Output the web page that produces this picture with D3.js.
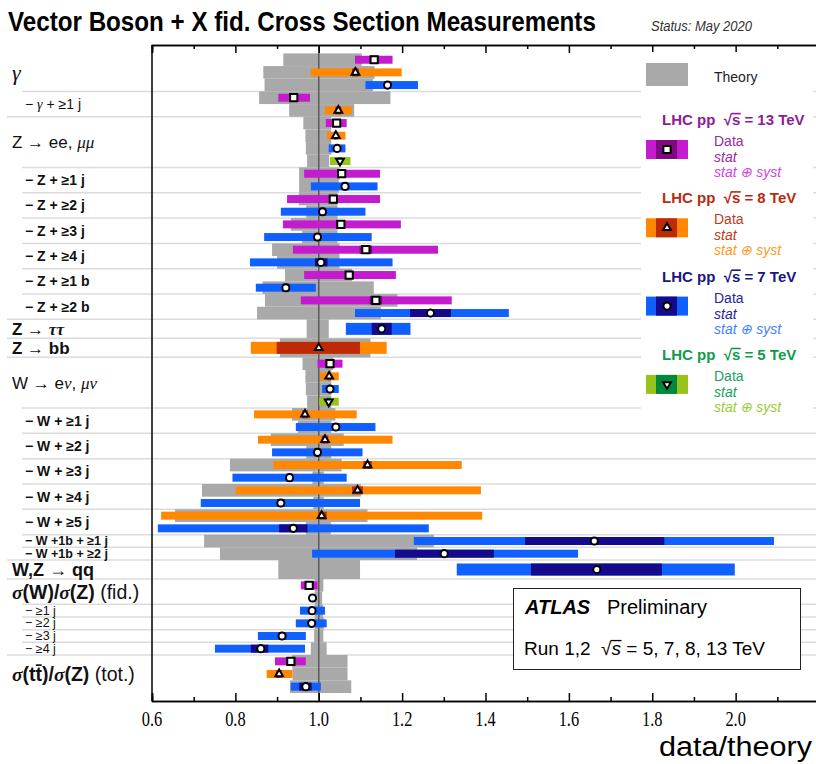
<!DOCTYPE html>
<html>
<head>
<meta charset="utf-8">
<script src="https://cdn.jsdelivr.net/npm/d3@7"></script>
<style>
  body { margin: 0; background: #fff; }
  svg { display: block; font-family: "Liberation Sans", Arial, sans-serif; }
  svg text { white-space: pre; }
</style>
</head>
<body>
<div id="app"></div>
<script>
// Categories (rows), top to bottom; level 0 = process, level 1 = sub-selection
const categories = [
  "γ", "− γ + ≥1 j",
  "Z → ee, μμ", "− Z + ≥1 j", "− Z + ≥2 j", "− Z + ≥3 j", "− Z + ≥4 j", "− Z + ≥1 b", "− Z + ≥2 b",
  "Z → ττ", "Z → bb",
  "W → eν, μν", "− W + ≥1 j", "− W + ≥2 j", "− W + ≥3 j", "− W + ≥4 j", "− W + ≥5 j",
  "− W +1b + ≥1 j", "− W +1b + ≥2 j",
  "W,Z → qq",
  "σ(W)/σ(Z) (fid.)", "− ≥1 j", "− ≥2 j", "− ≥3 j", "− ≥4 j",
  "σ(tt̄)/σ(Z) (tot.)"
];
const catLevel = [0, 1, 0, 1, 1, 1, 1, 1, 1, 0, 0, 0, 1, 1, 1, 1, 1, 1, 1, 0, 0, 1, 1, 1, 1, 0];

const energies = ["13", "8", "7", "5"];

// [category, data/theory, stat low, stat high, stat+syst low, stat+syst high, theory low, theory high]
const meas13 = [
  ["γ",            1.133, 1.125, 1.141, 1.087, 1.177, 0.915, 1.103],
  ["− γ + ≥1 j",   0.940, 0.932, 0.948, 0.903, 0.979, 0.857, 1.172],
  ["Z → ee, μμ",   1.043, 1.038, 1.048, 1.017, 1.067, 0.963, 1.030],
  ["− Z + ≥1 j",   1.055, 1.047, 1.063, 0.965, 1.147, 0.953, 1.050],
  ["− Z + ≥2 j",   1.035, 1.027, 1.043, 0.924, 1.147, 0.952, 1.045],
  ["− Z + ≥3 j",   1.053, 1.043, 1.063, 0.914, 1.197, 0.933, 1.045],
  ["− Z + ≥4 j",   1.113, 1.098, 1.128, 0.938, 1.286, 0.888, 1.050],
  ["− Z + ≥1 b",   1.073, 1.063, 1.083, 0.965, 1.185, 0.919, 1.080],
  ["− Z + ≥2 b",   1.137, 1.122, 1.152, 0.957, 1.319, 0.871, 1.189],
  ["W → eν, μν",   1.027, 1.022, 1.032, 0.997, 1.057, 0.961, 1.035],
  ["σ(W)/σ(Z) (fid.)", 0.977, 0.967, 0.987, 0.957, 0.997, 0.990, 1.011],
  ["σ(tt̄)/σ(Z) (tot.)", 0.933, 0.924, 0.944, 0.895, 0.969, 0.936, 1.069]
];
const meas8 = [
  ["γ",            1.088, 1.080, 1.096, 0.981, 1.199, 0.867, 1.134],
  ["− γ + ≥1 j",   1.047, 1.040, 1.054, 1.015, 1.079, 0.929, 1.085],
  ["Z → ee, μμ",   1.041, 1.037, 1.045, 1.020, 1.064, 0.968, 1.030],
  ["Z → bb",       1.000, 0.899, 1.099, 0.837, 1.163, 0.907, 1.124],
  ["W → eν, μν",   1.025, 1.021, 1.029, 1.003, 1.048, 0.968, 1.030],
  ["− W + ≥1 j",   0.967, 0.960, 0.974, 0.845, 1.091, 0.936, 1.040],
  ["− W + ≥2 j",   1.015, 1.007, 1.023, 0.854, 1.177, 0.885, 1.060],
  ["− W + ≥3 j",   1.117, 1.107, 1.127, 0.891, 1.343, 0.787, 1.055],
  ["− W + ≥4 j",   1.093, 1.080, 1.106, 0.801, 1.389, 0.720, 1.101],
  ["− W + ≥5 j",   1.007, 0.999, 1.019, 0.622, 1.392, 0.655, 1.117],
  ["σ(tt̄)/σ(Z) (tot.)", 0.905, 0.898, 0.912, 0.875, 0.937, 0.937, 1.069]
];
const meas7 = [
  ["γ",            1.165, 1.158, 1.172, 1.112, 1.238, 0.870, 1.130],
  ["Z → ee, μμ",   1.044, 1.040, 1.048, 1.024, 1.064, 0.969, 1.030],
  ["− Z + ≥1 j",   1.063, 1.055, 1.071, 0.981, 1.141, 0.953, 1.048],
  ["− Z + ≥2 j",   1.009, 1.001, 1.017, 0.909, 1.112, 0.970, 1.045],
  ["− Z + ≥3 j",   0.997, 0.989, 1.005, 0.869, 1.127, 0.960, 1.045],
  ["− Z + ≥4 j",   1.005, 0.991, 1.021, 0.835, 1.177, 0.900, 1.050],
  ["− Z + ≥1 b",   0.921, 0.913, 0.929, 0.849, 0.993, 0.865, 1.132],
  ["− Z + ≥2 b",   1.268, 1.219, 1.317, 1.087, 1.456, 0.852, 1.149],
  ["Z → ττ",       1.151, 1.127, 1.175, 1.065, 1.220, 0.971, 1.024],
  ["W → eν, μν",   1.027, 1.023, 1.031, 1.008, 1.048, 0.969, 1.030],
  ["− W + ≥1 j",   1.041, 1.033, 1.049, 0.945, 1.136, 0.950, 1.030],
  ["− W + ≥2 j",   0.997, 0.989, 1.005, 0.888, 1.105, 0.970, 1.030],
  ["− W + ≥3 j",   0.930, 0.922, 0.938, 0.793, 1.067, 0.985, 1.012],
  ["− W + ≥4 j",   0.909, 0.900, 0.918, 0.717, 1.099, 0.987, 1.012],
  ["− W + ≥5 j",   0.939, 0.905, 0.973, 0.614, 1.264, 0.969, 1.029],
  ["− W +1b + ≥1 j", 1.661, 1.495, 1.829, 1.228, 2.092, 0.725, 1.276],
  ["− W +1b + ≥2 j", 1.301, 1.183, 1.420, 0.984, 1.622, 0.763, 1.236],
  ["W,Z → qq",     1.667, 1.509, 1.823, 1.331, 1.998, 0.903, 1.099],
  ["σ(W)/σ(Z) (fid.)", 0.985, 0.981, 0.989, 0.978, 0.993, 0.990, 1.008],
  ["− ≥1 j",       0.984, 0.978, 0.990, 0.955, 1.015, 0.990, 1.010],
  ["− ≥2 j",       0.983, 0.977, 0.989, 0.945, 1.019, 0.990, 1.012],
  ["− ≥3 j",       0.912, 0.904, 0.920, 0.854, 0.969, 0.989, 1.011],
  ["− ≥4 j",       0.861, 0.837, 0.879, 0.751, 0.967, 0.981, 1.019],
  ["σ(tt̄)/σ(Z) (tot.)", 0.969, 0.953, 0.983, 0.933, 1.005, 0.931, 1.078]
];
const meas5 = [
  ["Z → ee, μμ",   1.051, 1.046, 1.056, 1.027, 1.076, 0.972, 1.025],
  ["W → eν, μν",   1.024, 1.019, 1.029, 1.001, 1.048, 0.972, 1.030]
];

const xTicks = [0.6, 0.8, 1.0, 1.2, 1.4, 1.6, 1.8, 2.0];

// Styling per energy
const style = {
  "13": { syst: "#c51bcf", stat: "#7d0a80", head: "#8e1c96", text: "#9a2aa0", soft: "#d344e0", symbol: d3.symbolSquare, size: 52, rot: 0 },
  "8":  { syst: "#ff8800", stat: "#bd2a05", head: "#b82a10", text: "#c23a1c", soft: "#ff9a22", symbol: d3.symbolTriangle, size: 26, rot: 0 },
  "7":  { syst: "#1060ff", stat: "#150a8c", head: "#181880", text: "#252592", soft: "#3f82ff", symbol: d3.symbolCircle, size: 40, rot: 0 },
  "5":  { syst: "#99c21c", stat: "#00893c", head: "#119a4c", text: "#22a062", soft: "#9ccc36", symbol: d3.symbolTriangle, size: 26, rot: 180 }
};
const theoryColor = "#a9a9a9";

const width = 816, height = 764;
const plotLeft = 152, plotRight = 819, plotTop = 45, plotBottom = 701;

const svg = d3.select("#app").append("svg").attr("width", width).attr("height", height);

// squeeze a text horizontally so that it spans the given width
function fitWidth(sel, x0, y0, w) {
  const natural = sel.node().getComputedTextLength();
  sel.attr("transform", `translate(${x0},${y0}) scale(${w / natural},1)`);
}

// overline over the character at index i (for the √s radicand)
function overline(textSel, i, size, color) {
  const node = textSel.node();
  const a = node.getStartPositionOfChar(i);
  const b = node.getEndPositionOfChar(i);
  const yy = a.y - size * 0.76;
  svg.append("line").attr("x1", a.x - 0.5).attr("x2", b.x + 0.5)
    .attr("y1", yy).attr("y2", yy)
    .attr("stroke", color).attr("stroke-width", size > 16 ? 1.3 : 1.6);
}

// Assemble rows and slots
const measByEnergy = { "13": meas13, "8": meas8, "7": meas7, "5": meas5 };
const rows = categories.map((name, i) => {
  const items = [];
  energies.forEach(e => {
    measByEnergy[e].filter(m => m[0] === name).forEach(m => {
      items.push({ energy: e, v: m[1], stat: [m[2], m[3]], tot: [m[4], m[5]], th: [m[6], m[7]] });
    });
  });
  return { name, level: catLevel[i], items };
});
let slot = 0;
rows.forEach(r => {
  const size = (r.level === 0 && r.items.length === 1) ? 1.5 : 1;
  r.start = slot;
  r.items.forEach(it => { it.s0 = slot; it.s1 = slot + size; slot += size; });
  r.end = slot;
});
const entries = rows.flatMap(r => r.items);

const x = d3.scaleLinear().domain([0.6, 2.2]).range([plotLeft, plotRight]);
const y = d3.scaleLinear().domain([0, slot]).range([plotTop + 8.4, plotBottom - 8]);

// Title
const title = svg.append("text")
  .style("font-size", "27px").style("font-weight", "bold")
  .text("Vector Boson + X fid. Cross Section Measurements");
fitWidth(title, 8, 31, 588);
const status = svg.append("text")
  .style("font-size", "14px").style("font-style", "italic").style("fill", "#333")
  .text("Status: May 2020");
fitWidth(status, 651, 31, 101);

// Row separators
svg.append("g").selectAll("line")
  .data(rows.slice(1))
  .enter()
  .append("line")
  .attr("x1", d => d.level === 0 ? 7 : 22)
  .attr("x2", width)
  .attr("y1", d => y(d.start))
  .attr("y2", d => y(d.start))
  .attr("stroke", "#dcdcdc")
  .attr("stroke-width", 1.5);

// Theory bands
svg.append("g").selectAll("rect")
  .data(entries)
  .enter()
  .append("rect")
  .attr("x", d => x(d.th[0]))
  .attr("width", d => x(d.th[1]) - x(d.th[0]))
  .attr("y", d => y(d.s0))
  .attr("height", d => y(d.s1) - y(d.s0))
  .attr("fill", theoryColor);

// Reference line at 1
svg.append("line")
  .attr("x1", x(1)).attr("x2", x(1))
  .attr("y1", plotTop).attr("y2", plotBottom)
  .attr("stroke", "#5a5a5a").attr("stroke-width", 1.5);

// Data bars (stat+syst, then stat)
const barH = d => (y(d.s1) - y(d.s0)) * 0.63;
const midY = d => (y(d.s0) + y(d.s1)) / 2;
["tot", "stat"].forEach(k => {
  svg.append("g").selectAll("rect")
    .data(entries)
    .enter()
    .append("rect")
    .attr("x", d => x(d[k][0]))
    .attr("width", d => x(d[k][1]) - x(d[k][0]))
    .attr("y", d => midY(d) - barH(d) / 2)
    .attr("height", barH)
    .attr("fill", d => k === "tot" ? style[d.energy].syst : style[d.energy].stat);
});

// Markers
svg.append("g").selectAll("path")
  .data(entries)
  .enter()
  .append("path")
  .attr("d", d => d3.symbol().type(style[d.energy].symbol).size(style[d.energy].size)())
  .attr("transform", d => `translate(${x(d.v)},${midY(d)}) rotate(${style[d.energy].rot})`)
  .attr("fill", "#fff")
  .attr("stroke", "#000")
  .attr("stroke-width", 2);

// Axes
const majors = xTicks;
const minors = d3.range(0.7, 2.2, 0.2);
svg.append("line").attr("x1", plotLeft).attr("x2", plotLeft)
  .attr("y1", plotTop).attr("y2", plotBottom).attr("stroke", "#000").attr("stroke-width", 1.5);

const bottomMajor = d3.axisTop(x).tickValues(majors).tickSize(8).tickFormat("");
const bottomMinor = d3.axisTop(x).tickValues(minors).tickSize(4).tickFormat("");
const topMajor = d3.axisBottom(x).tickValues(majors).tickSize(8).tickFormat("");
const topMinor = d3.axisBottom(x).tickValues(minors).tickSize(4).tickFormat("");
[[bottomMajor, plotBottom], [bottomMinor, plotBottom], [topMajor, plotTop], [topMinor, plotTop]].forEach(([ax, yy]) => {
  const g = svg.append("g").attr("transform", `translate(0,${yy})`).call(ax);
  g.select(".domain").attr("stroke", "#000").attr("stroke-width", 1.5);
  g.selectAll(".tick line").attr("stroke", "#000").attr("stroke-width", 1.5);
});

svg.append("g").selectAll("text")
  .data(majors)
  .enter()
  .append("text")
  .attr("transform", d => `translate(${x(d)},726) scale(0.82,1)`)
  .attr("text-anchor", "middle")
  .style("font-family", "'Liberation Serif', serif")
  .style("font-size", "20px")
  .text(d => d.toFixed(1));

const xTitle = svg.append("text")
  .attr("text-anchor", "end")
  .style("font-size", "27px")
  .text("data/theory");
xTitle.attr("transform", `translate(812,756) scale(${153 / xTitle.node().getComputedTextLength()},1)`);

// Row labels
const boldMain = new Set(["Z → ττ", "Z → bb", "W,Z → qq", "σ(W)/σ(Z) (fid.)", "σ(tt̄)/σ(Z) (tot.)"]);
const greek = /([γμνστ])/;
rows.forEach(r => {
  const cy = (y(r.start) + y(r.end)) / 2;
  const isSub = r.level === 1;
  let weight = "normal";
  if (boldMain.has(r.name)) weight = "bold";
  if (isSub && /[ZW]/.test(r.name)) weight = "bold";
  let size = 17;
  if (r.name === "γ") size = 22;
  else if (r.name.startsWith("σ")) size = 19.5;
  else if (r.name.startsWith("W,Z")) size = 18;
  else if (isSub) size = r.items.length > 1 ? 14 : 12.5;
  const t = svg.append("text")
    .attr("x", isSub ? 25 : 12)
    .attr("y", cy)
    .attr("dominant-baseline", "central")
    .style("font-size", size + "px")
    .style("font-weight", weight)
    .style("fill", "#111");
  const m = r.name.match(/^(.*?)( \((?:fid|tot)\.\))?$/);
  m[1].split(greek).filter(s => s).forEach(s => {
    const isGreek = greek.test(s);
    t.append("tspan").text(s)
      .style("font-family", isGreek ? "'Liberation Serif', serif" : null)
      .style("font-style", isGreek ? "italic" : null)
      .style("font-weight", isGreek ? (weight === "bold" ? "bold" : "normal") : null);
  });
  if (m[2]) t.append("tspan").text(m[2]).style("font-weight", "normal");
});

// Legend
const lg = svg.append("g");
lg.append("rect").attr("x", 641).attr("y", 52).attr("width", 172).attr("height", 368).attr("fill", "#fff");
lg.append("rect").attr("x", 646).attr("y", 63).attr("width", 42).attr("height", 23).attr("fill", theoryColor);
lg.append("text").attr("x", 714).attr("y", 82).style("font-size", "14px").style("fill", "#222").text("Theory");

energies.forEach((e, i) => {
  const s = style[e];
  const top = 140 + i * 78.3;
  const h = lg.append("text").attr("x", 662).attr("y", top - 15)
    .style("font-size", "15px").style("font-weight", "bold").style("fill", s.head)
    .text(`LHC pp  √s = ${e} TeV`);
  overline(h, 9, 15, s.head);
  lg.append("rect").attr("x", 646).attr("y", top).attr("width", 42).attr("height", 19).attr("fill", s.syst);
  lg.append("rect").attr("x", 656).attr("y", top).attr("width", 21).attr("height", 19).attr("fill", s.stat);
  lg.append("path")
    .attr("d", d3.symbol().type(s.symbol).size(s.size)())
    .attr("transform", `translate(667,${top + 9.5}) rotate(${s.rot})`)
    .attr("fill", "#fff").attr("stroke", "#000").attr("stroke-width", 2);
  lg.append("text").attr("x", 714).attr("y", top + 6).style("font-size", "14px").style("fill", s.text).text("Data");
  lg.append("text").attr("x", 714).attr("y", top + 22).style("font-size", "14px").style("font-style", "italic").style("fill", s.text).text("stat");
  lg.append("text").attr("x", 714).attr("y", top + 37).style("font-size", "14px").style("font-style", "italic").style("fill", s.soft).text("stat ⊕ syst");
});

// ATLAS box
const ab = svg.append("g");
ab.append("rect").attr("x", 513.5).attr("y", 588.5).attr("width", 287).attr("height", 81)
  .attr("fill", "#fff").attr("stroke", "#222").attr("stroke-width", 1);
ab.append("text").attr("x", 525).attr("y", 614)
  .style("font-size", "20px").style("font-weight", "bold").style("font-style", "italic").text("ATLAS");
ab.append("text").attr("x", 607).attr("y", 614).style("font-size", "20px").text("Preliminary");
const run = ab.append("text").attr("x", 524).attr("y", 655).style("font-size", "19px");
run.append("tspan").text("Run 1,2  √");
run.append("tspan").text("s").style("font-style", "italic");
run.append("tspan").text(" = 5, 7, 8, 13 TeV");
overline(run, 10, 19, "#000");
</script>
</body>
</html>
